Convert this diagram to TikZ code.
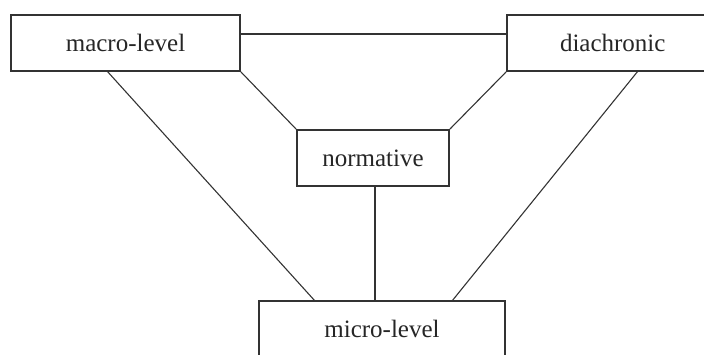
\documentclass[tikz,border=0pt]{standalone}
\usepackage{fontspec}
\setmainfont{Liberation Serif}
\usetikzlibrary{calc}
\begin{document}
\begin{tikzpicture}[x=1pt,y=-1pt,
  box/.style={draw=black!80,line width=1.8pt,fill=white,inner sep=0pt,
    minimum height=56pt,font=\fontsize{25}{29}\selectfont,text=black!85},
  link/.style={draw=black!80,line width=1.1pt}]
\useasboundingbox (0,0) rectangle (704,354);
\clip (0,0) rectangle (704,354);
\node[box,minimum width=229pt] (macro) at (125.5,43) {macro-level};
\node[box,minimum width=213pt,text width=183pt,align=left] (dia) at (613.5,43) {\hspace*{38pt}diachronic};
\node[box,minimum width=152pt] (norm) at (373,158) {normative};
\node[box,minimum width=246pt] (micro) at (382,329) {micro-level};
\coordinate (h1) at (macro.east |- 0,34);
\coordinate (h2) at (dia.west |- 0,34);
\coordinate (m1) at (107,71);
\coordinate (d1) at (638,71);
\coordinate (u1) at (315,301);
\coordinate (u2) at (375,301);
\coordinate (u3) at (452,301);
\coordinate (n1) at (375,186);
\draw[link] (h1) -- (h2);
\draw[link] (macro.south east) -- (norm.north west);
\draw[link] (dia.south west) -- (norm.north east);
\draw[link] (m1) -- (u1);
\draw[link] (d1) -- (u3);
\draw[link] (n1) -- (u2);
\end{tikzpicture}
\end{document}
